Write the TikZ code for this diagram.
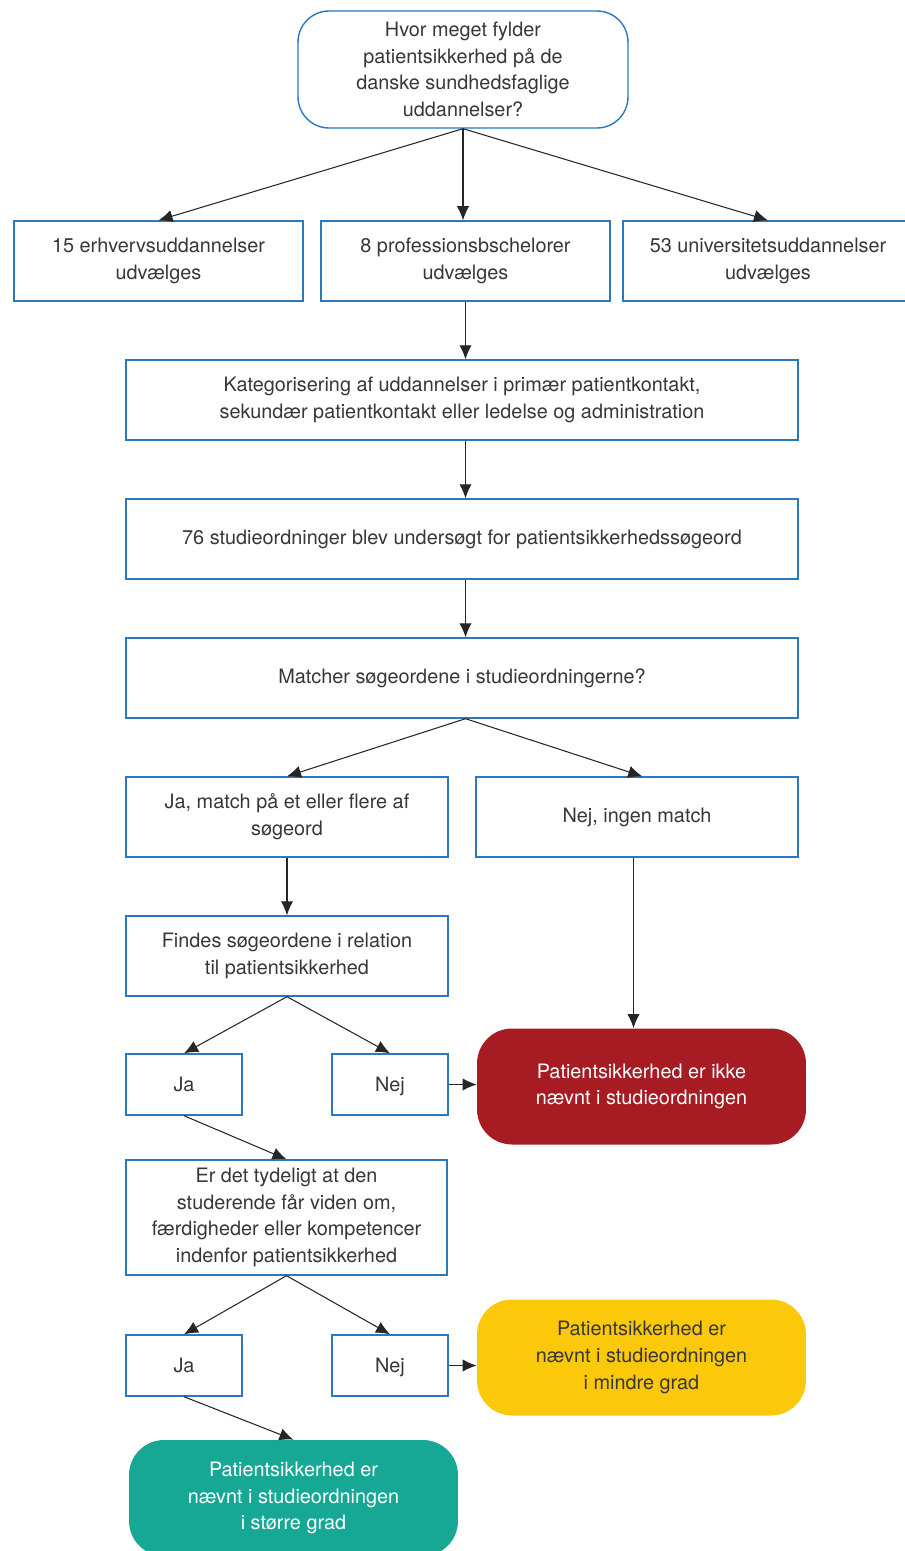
\documentclass[tikz,border=0pt]{standalone}
\usepackage{fontspec}
\setmainfont{TeX Gyre Heros}
\usepackage{xcolor}
\usetikzlibrary{arrows.meta, positioning}

\definecolor{boxblue}{RGB}{43,120,189}
\definecolor{txtgray}{RGB}{55,55,55}
\definecolor{notred}{RGB}{166,28,34}
\definecolor{lessyellow}{RGB}{252,200,10}
\definecolor{moregreen}{RGB}{22,168,149}

\tikzset{
  box/.style={rectangle, draw=boxblue, line width=0.8pt, fill=white, text=txtgray, align=center,
    font=\fontsize{11.3}{15.2}\selectfont, inner sep=0pt},
  qbox/.style={box, rounded corners=0.62cm},
  answer/.style={box, minimum width=2.32cm, minimum height=1.22cm, text height=9.5pt, text depth=1.5pt},
  result/.style={rectangle, rounded corners=0.7cm, text=white, align=center,
    font=\fontsize{11.3}{15.2}\selectfont, inner sep=0pt, minimum width=6.58cm, minimum height=2.32cm},
  flow/.style={-{Latex[length=8pt,width=7pt]}, line width=0.6pt, black!85}
}

\begin{document}
\begin{tikzpicture}[x=0.02cm, y=-0.02cm]
\useasboundingbox (0,0) rectangle (904,1551);

% question
\node[qbox, minimum width=6.6cm, minimum height=2.34cm] (q) at (463,69.5) {Hvor meget fylder\\patientsikkerhed på de\\danske sundhedsfaglige\\uddannelser?};

% selection
\node[box, minimum width=5.78cm, minimum height=1.6cm] (erhverv) at (158.5,261) {15 erhvervsuddannelser\\udvælges};
\node[box, minimum width=5.78cm, minimum height=1.6cm] (prof) at (465.5,261) {8 professionsbschelorer\\udvælges};
\node[box, minimum width=5.8cm, minimum height=1.6cm] (univ) at (768,261) {53 universitetsuddannelser\\udvælges};

\node[box, minimum width=13.44cm, minimum height=1.6cm] (kat) at (462,400) {Kategorisering af uddannelser i primær patientkontakt,\\sekundær patientkontakt eller ledelse og administration};
\node[box, minimum width=13.44cm, minimum height=1.6cm] (studie) at (462,539) {76 studieordninger blev undersøgt for patientsikkerhedssøgeord};
\node[box, minimum width=13.44cm, minimum height=1.6cm] (match) at (462,678) {Matcher søgeordene i studieordningerne?};

\node[box, minimum width=6.44cm, minimum height=1.6cm] (jamatch) at (287,817) {Ja, match på et eller flere af\\søgeord};
\node[box, minimum width=6.44cm, minimum height=1.6cm] (nejmatch) at (637,817) {Nej, ingen match};

\node[box, minimum width=6.44cm, minimum height=1.6cm] (findes) at (287,956) {Findes søgeordene i relation\\til patientsikkerhed};
\node[answer] (ja1) at (184,1084.5) {Ja};
\node[answer] (nej1) at (390,1084.5) {Nej};

\node[box, minimum width=6.42cm, minimum height=2.3cm] (tydelig) at (286.5,1217.5) {Er det tydeligt at den\\studerende får viden om,\\færdigheder eller kompetencer\\indenfor patientsikkerhed};
\node[answer] (ja2) at (184,1365.5) {Ja};
\node[answer] (nej2) at (390,1365.5) {Nej};

% outcomes
\node[result, fill=notred] (ikke) at (641.5,1086.5) {Patientsikkerhed er ikke\\nævnt i studieordningen};
\node[result, fill=lessyellow, text=txtgray] (mindre) at (641.5,1357.5) {Patientsikkerhed er\\nævnt i studieordningen\\i mindre grad};
\node[result, fill=moregreen] (stoerre) at (293.5,1498) {Patientsikkerhed er\\nævnt i studieordningen\\i større grad};

% connectors
\draw[flow] (q.south) -- (erhverv.north);
\draw[flow] (q.south) -- (q.south |- prof.north);
\draw[flow] (q.south) -- (univ.north);
\draw[flow] (prof.south) -- (prof.south |- kat.north);
\draw[flow] (kat.south -| prof) -- (studie.north -| prof);
\draw[flow] (studie.south -| prof) -- (match.north -| prof);
\draw[flow] (match.south -| prof) -- (jamatch.north);
\draw[flow] (match.south -| prof) -- ([xshift=3]nejmatch.north);
\draw[flow] (jamatch) -- (findes);
\draw[flow] ([xshift=-2]nejmatch.south) -- ([xshift=-2]nejmatch.south |- ikke.north);
\draw[flow] (findes.south) -- (ja1.north);
\draw[flow] (findes.south) -- (nej1.north);
\draw[flow] (nej1.east) -- (nej1.east -| ikke.west);
\draw[flow] (ja1.south) -- (tydelig.north);
\draw[flow] (tydelig.south) -- (ja2.north);
\draw[flow] (tydelig.south) -- (nej2.north);
\draw[flow] (nej2.east) -- (nej2.east -| mindre.west);
\draw[flow] (ja2.south) -- (stoerre.north);
\end{tikzpicture}
\end{document}
